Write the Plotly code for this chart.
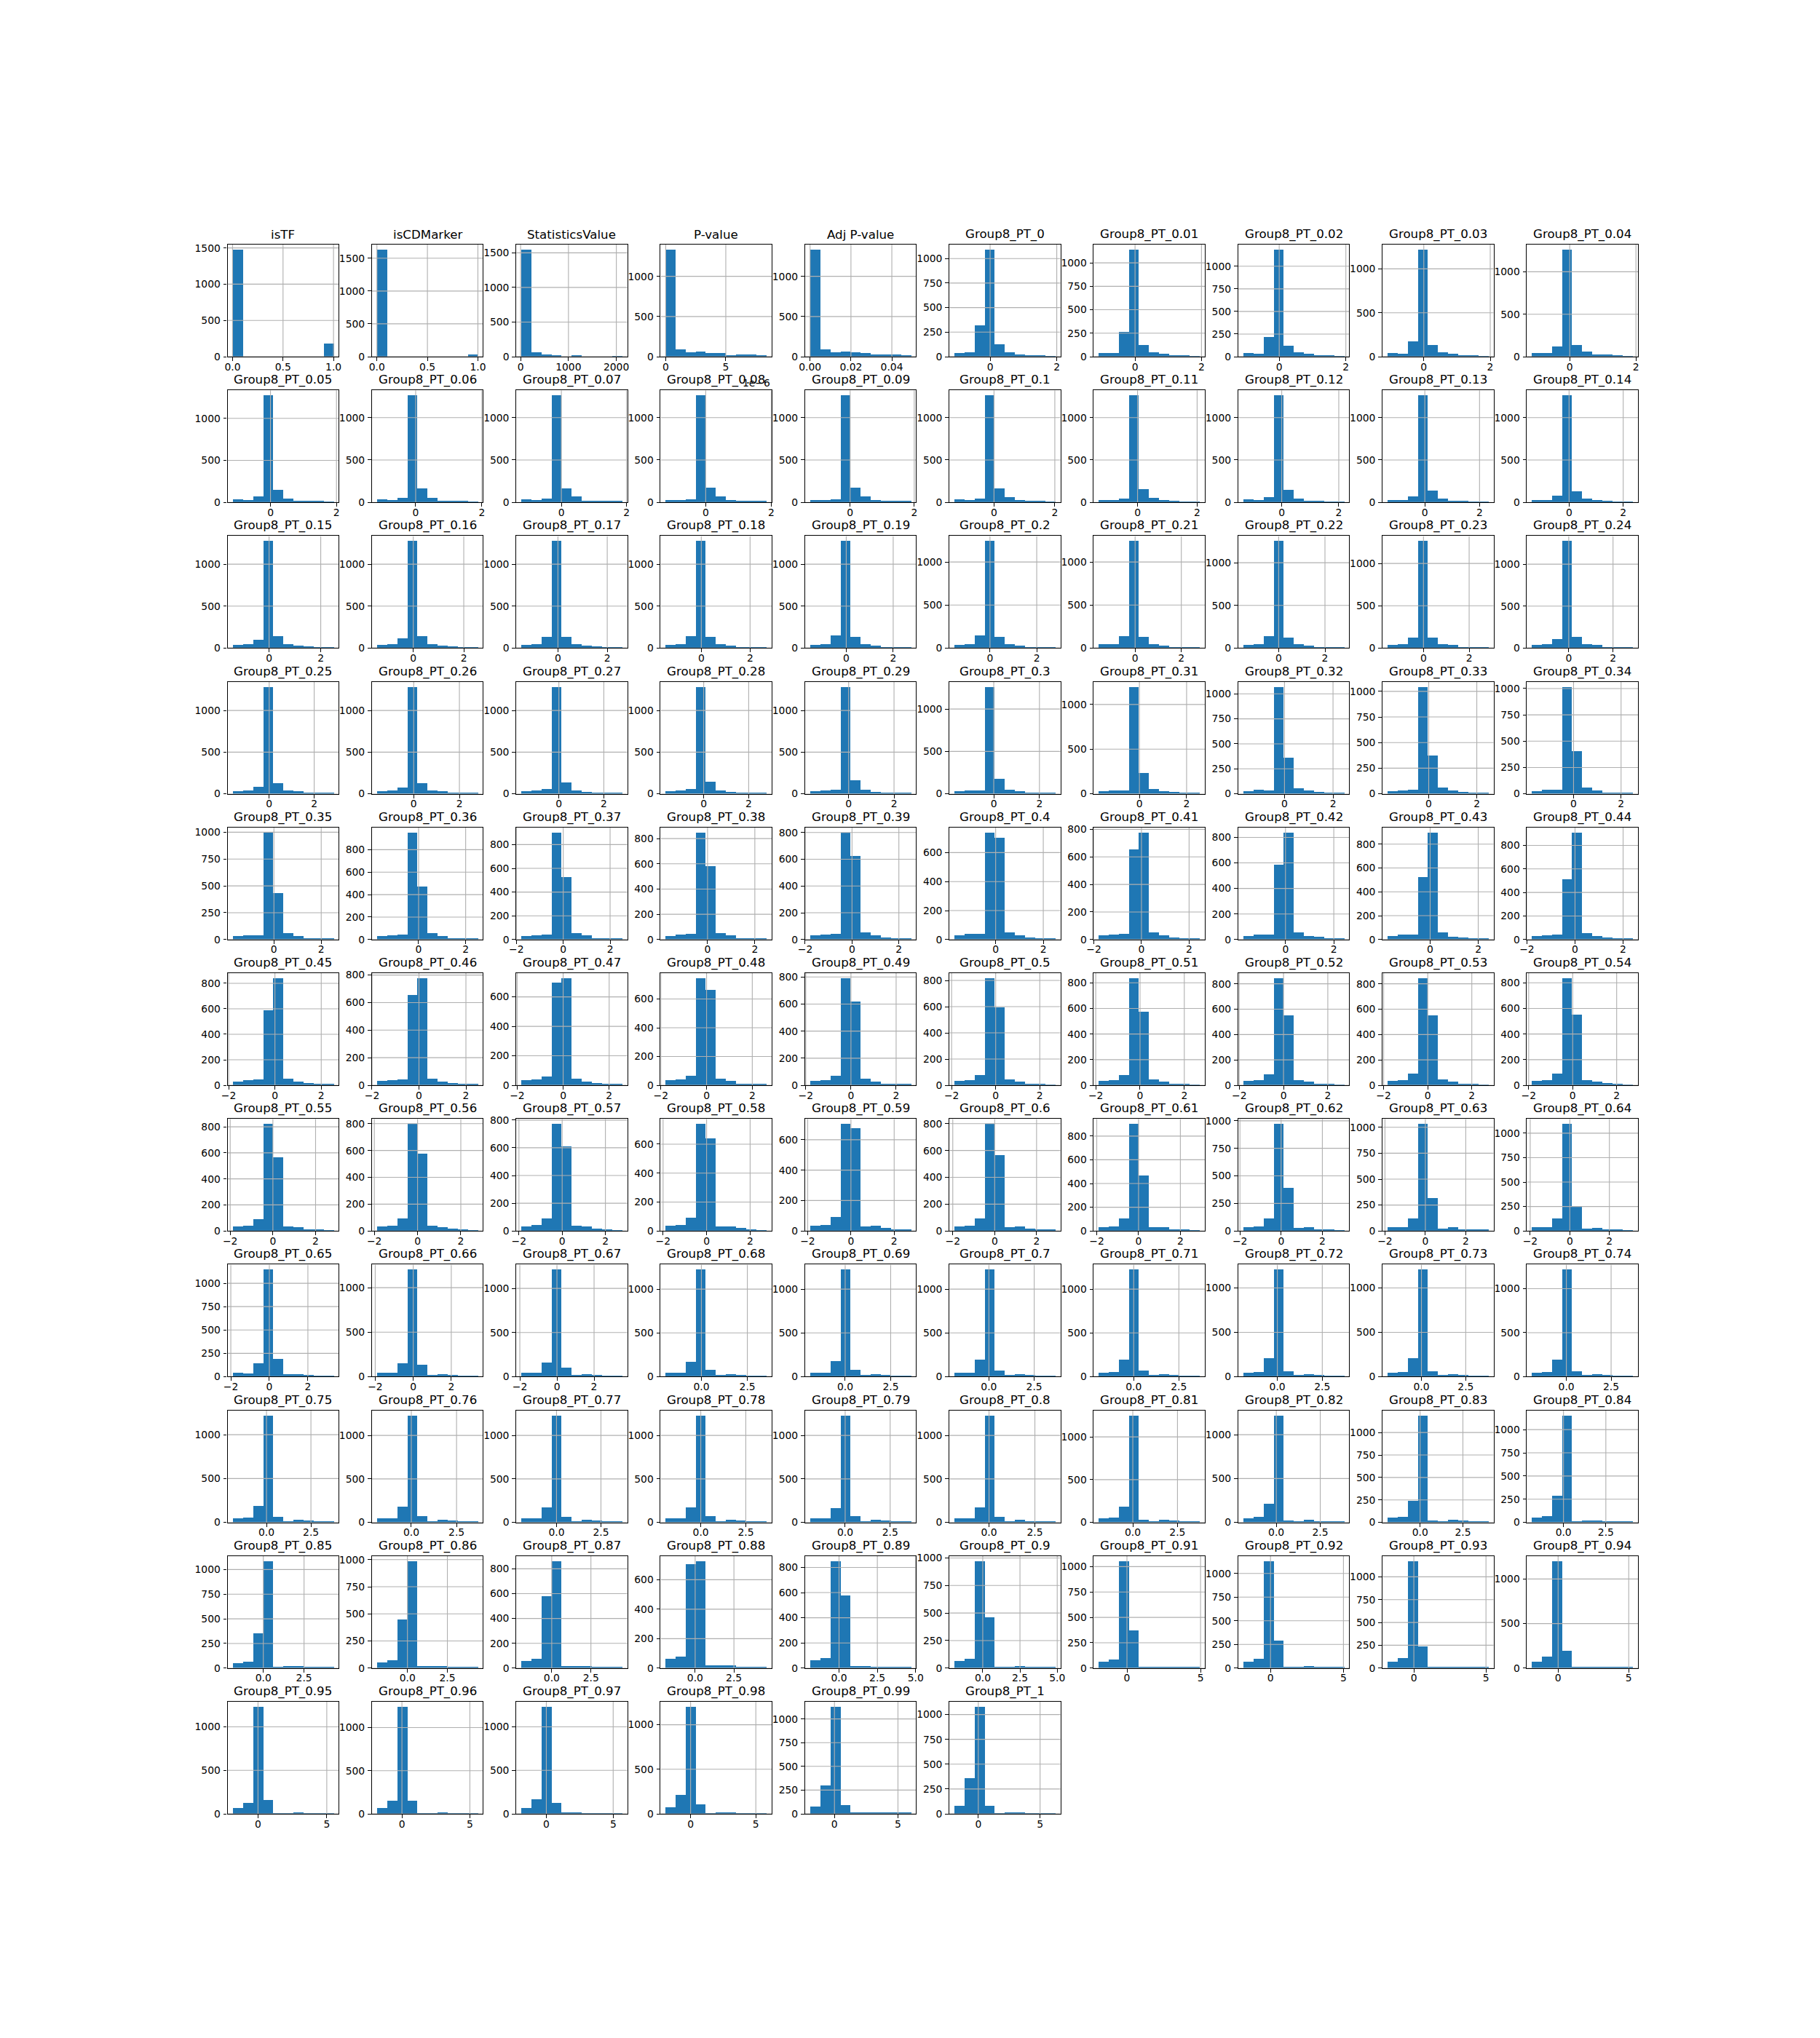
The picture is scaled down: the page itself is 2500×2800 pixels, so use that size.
import numpy as np
import plotly.graph_objects as go

# ---------------- data ----------------
r01_titles = ["isTF", "isCDMarker", "StatisticsValue", "P-value", "Adj P-value",
              "Group8_PT_0", "Group8_PT_0.01", "Group8_PT_0.02", "Group8_PT_0.03", "Group8_PT_0.04"]
r01_lo = [0.0, 0.0, 15.0, 0.0, 0.0, -1.07, -1.09, -1.08, -1.09, -1.14]
r01_hi = [1.0, 1.0, 2124.0, 8.4e-6, 0.0494, 1.96, 1.95, 1.95, 1.95, 1.91]
r01_counts = [
    [1473, 0, 0, 0, 0, 0, 0, 0, 0, 183],
    [1627, 0, 0, 0, 0, 0, 0, 0, 0, 29],
    [1542, 62, 31, 14, 0, 12, 0, 0, 0, 1],
    [1329, 90, 54, 63, 45, 45, 15, 27, 27, 15],
    [1329, 90, 54, 63, 54, 45, 27, 27, 27, 15],
    [37, 47, 316, 1088, 125, 44, 20, 12, 12, 5],
    [38, 38, 262, 1138, 123, 46, 31, 13, 13, 4],
    [40, 32, 215, 1181, 120, 48, 32, 13, 13, 5],
    [41, 33, 173, 1216, 131, 49, 33, 14, 14, 5],
    [42, 42, 119, 1258, 136, 59, 25, 25, 14, 5],
]

r02_titles = ["Group8_PT_0.05", "Group8_PT_0.06", "Group8_PT_0.07", "Group8_PT_0.08", "Group8_PT_0.09",
              "Group8_PT_0.1", "Group8_PT_0.11", "Group8_PT_0.12", "Group8_PT_0.13", "Group8_PT_0.14"]
r02_lo = [-1.15, -1.17, -1.23, -1.22, -1.25, -1.30, -1.30, -1.35, -1.36, -1.37]
r02_hi = [1.91, 1.88, 1.87, 1.86, 1.90, 2.02, 2.09, 2.19, 2.33, 2.36]
r02_counts = [
    [38, 26, 72, 1270, 151, 46, 20, 12, 12, 3],
    [37, 26, 55, 1259, 167, 55, 20, 20, 11, 3],
    [37, 26, 46, 1259, 167, 72, 20, 20, 11, 11],
    [26, 26, 37, 1259, 175, 72, 26, 20, 11, 11],
    [26, 26, 37, 1259, 175, 72, 26, 20, 11, 11],
    [37, 26, 46, 1259, 167, 63, 26, 17, 11, 3],
    [26, 26, 46, 1259, 158, 55, 26, 11, 3, 3],
    [37, 26, 63, 1259, 150, 46, 20, 20, 3, 3],
    [26, 26, 72, 1259, 141, 46, 20, 11, 3, 3],
    [26, 26, 80, 1259, 132, 46, 29, 11, 3, 3],
]

r03_titles = ["Group8_PT_0.15", "Group8_PT_0.16", "Group8_PT_0.17", "Group8_PT_0.18", "Group8_PT_0.19",
              "Group8_PT_0.2", "Group8_PT_0.21", "Group8_PT_0.22", "Group8_PT_0.23", "Group8_PT_0.24"]
r03_lo = [-1.415, -1.44, -1.485, -1.46, -1.54, -1.52, -1.57, -1.53, -1.57, -1.66]
r03_hi = [2.495, 2.56, 2.61, 2.68, 2.76, 2.80, 2.80, 2.83, 2.85, 2.90]
r03_counts = [
    [32, 40, 92, 1272, 136, 40, 23, 14, 6, 6],
    [32, 40, 110, 1272, 136, 40, 23, 14, 6, 6],
    [32, 40, 127, 1272, 127, 40, 23, 14, 6, 6],
    [32, 40, 136, 1272, 127, 40, 23, 6, 6, 6],
    [32, 40, 145, 1272, 127, 40, 23, 6, 6, 6],
    [31, 39, 141, 1240, 124, 39, 23, 6, 6, 6],
    [39, 39, 132, 1240, 124, 39, 23, 6, 6, 6],
    [31, 40, 134, 1250, 116, 40, 23, 6, 6, 6],
    [32, 40, 117, 1261, 117, 40, 32, 6, 6, 6],
    [32, 40, 101, 1272, 127, 40, 32, 6, 6, 6],
]

r04_titles = ["Group8_PT_0.25", "Group8_PT_0.26", "Group8_PT_0.27", "Group8_PT_0.28", "Group8_PT_0.29",
              "Group8_PT_0.3", "Group8_PT_0.31", "Group8_PT_0.32", "Group8_PT_0.33", "Group8_PT_0.34"]
r04_lo = [-1.63, -1.61, -1.67, -1.69, -1.70, -1.72, -1.72, -1.70, -1.71, -1.75]
r04_hi = [2.86, 2.81, 2.82, 2.80, 2.75, 2.70, 2.56, 2.46, 2.49, 2.50]
r04_counts = [
    [38, 46, 90, 1281, 133, 46, 38, 12, 12, 12],
    [38, 46, 81, 1281, 133, 46, 38, 12, 12, 12],
    [38, 46, 64, 1281, 142, 46, 29, 20, 12, 12],
    [38, 46, 64, 1281, 151, 46, 29, 20, 12, 12],
    [38, 46, 55, 1281, 168, 55, 29, 20, 12, 12],
    [37, 46, 46, 1259, 182, 54, 37, 20, 11, 11],
    [35, 43, 43, 1195, 238, 59, 35, 27, 11, 11],
    [31, 43, 39, 1068, 365, 60, 39, 24, 10, 10],
    [31, 38, 42, 1042, 377, 66, 38, 24, 9, 9],
    [30, 41, 41, 1014, 408, 64, 37, 16, 16, 9],
]

r05_titles = ["Group8_PT_0.35", "Group8_PT_0.36", "Group8_PT_0.37", "Group8_PT_0.38", "Group8_PT_0.39",
              "Group8_PT_0.4", "Group8_PT_0.41", "Group8_PT_0.42", "Group8_PT_0.43", "Group8_PT_0.44"]
r05_lo = [-1.75, -1.77, -1.79, -1.77, -1.79, -1.73, -1.79, -1.75, -1.77, -1.79]
r05_hi = [2.52, 2.52, 2.52, 2.50, 2.52, 2.51, 2.45, 2.43, 2.43, 2.41]
r05_counts = [
    [36, 43, 43, 995, 435, 63, 36, 16, 9, 9],
    [34, 41, 47, 951, 473, 60, 34, 15, 9, 9],
    [33, 39, 45, 900, 527, 57, 39, 14, 14, 8],
    [31, 42, 48, 846, 582, 54, 36, 13, 13, 8],
    [35, 40, 45, 798, 624, 56, 35, 18, 13, 7],
    [32, 42, 42, 737, 702, 52, 32, 17, 12, 7],
    [33, 39, 44, 654, 775, 54, 33, 18, 12, 7],
    [30, 42, 42, 586, 836, 59, 30, 25, 8, 8],
    [32, 45, 45, 524, 895, 63, 26, 20, 8, 8],
    [33, 39, 45, 513, 907, 57, 33, 21, 8, 8],
]

r06_titles = ["Group8_PT_0.45", "Group8_PT_0.46", "Group8_PT_0.47", "Group8_PT_0.48", "Group8_PT_0.49",
              "Group8_PT_0.5", "Group8_PT_0.51", "Group8_PT_0.52", "Group8_PT_0.53", "Group8_PT_0.54"]
r06_lo = [-1.83, -1.79, -1.82, -1.79, -1.81, -1.87, -1.86, -1.82, -1.82, -1.85]
r06_hi = [2.53, 2.51, 2.57, 2.63, 2.66, 2.71, 2.70, 2.74, 2.76, 2.74]
r06_counts = [
    [30, 42, 47, 588, 838, 53, 30, 19, 8, 8],
    [33, 39, 44, 653, 775, 49, 28, 18, 7, 7],
    [36, 41, 61, 695, 725, 46, 26, 16, 11, 7],
    [37, 42, 67, 743, 662, 47, 32, 12, 12, 7],
    [34, 39, 71, 789, 618, 50, 29, 13, 13, 7],
    [35, 41, 79, 815, 594, 46, 29, 13, 13, 2],
    [36, 42, 81, 834, 574, 47, 30, 13, 13, 3],
    [36, 42, 88, 842, 550, 42, 30, 8, 13, 4],
    [36, 42, 93, 842, 550, 48, 30, 13, 13, 4],
    [36, 42, 92, 834, 551, 42, 30, 19, 8, 4],
]

r07_titles = ["Group8_PT_0.55", "Group8_PT_0.56", "Group8_PT_0.57", "Group8_PT_0.58", "Group8_PT_0.59",
              "Group8_PT_0.6", "Group8_PT_0.61", "Group8_PT_0.62", "Group8_PT_0.63", "Group8_PT_0.64"]
r07_lo = [-1.89, -1.88, -1.89, -1.88, -1.89, -1.92, -1.90, -1.84, -1.87, -1.91]
r07_hi = [2.84, 2.79, 2.78, 2.76, 2.78, 2.90, 2.93, 3.06, 3.13, 3.19]
r07_counts = [
    [36, 41, 92, 820, 563, 36, 30, 13, 7, 2],
    [35, 40, 95, 796, 577, 40, 29, 18, 7, 2],
    [33, 44, 91, 770, 607, 39, 33, 18, 12, 2],
    [37, 42, 92, 738, 637, 32, 32, 22, 12, 2],
    [35, 40, 93, 702, 674, 30, 35, 21, 11, 6],
    [35, 40, 95, 796, 566, 29, 35, 18, 13, 7],
    [33, 39, 107, 900, 464, 33, 33, 14, 8, 2],
    [35, 42, 115, 969, 393, 29, 35, 15, 9, 2],
    [38, 38, 122, 1030, 319, 23, 38, 16, 9, 9],
    [40, 40, 129, 1092, 256, 25, 32, 17, 10, 2],
]

r08_titles = ["Group8_PT_0.65", "Group8_PT_0.66", "Group8_PT_0.67", "Group8_PT_0.68", "Group8_PT_0.69",
              "Group8_PT_0.7", "Group8_PT_0.71", "Group8_PT_0.72", "Group8_PT_0.73", "Group8_PT_0.74"]
r08_lo = [-1.91, -1.91, -1.92, -1.94, -1.93, -1.90, -1.93, -1.90, -1.91, -1.92]
r08_hi = [3.33, 3.40, 3.52, 3.55, 3.62, 3.67, 3.66, 3.72, 3.79, 3.72]
r08_counts = [
    [42, 34, 143, 1143, 190, 26, 26, 18, 3, 3],
    [44, 44, 150, 1200, 134, 19, 27, 19, 8, 8],
    [44, 44, 160, 1209, 102, 19, 27, 19, 3, 3],
    [44, 44, 169, 1219, 78, 19, 28, 19, 3, 3],
    [44, 44, 178, 1219, 78, 19, 28, 19, 3, 3],
    [44, 44, 194, 1219, 69, 19, 28, 19, 3, 3],
    [44, 53, 194, 1219, 69, 19, 28, 19, 3, 3],
    [44, 52, 208, 1203, 60, 11, 27, 19, 3, 3],
    [44, 52, 208, 1203, 60, 11, 27, 19, 3, 3],
    [44, 52, 193, 1213, 61, 11, 28, 19, 3, 3],
]

r09_titles = ["Group8_PT_0.75", "Group8_PT_0.76", "Group8_PT_0.77", "Group8_PT_0.78", "Group8_PT_0.79",
              "Group8_PT_0.8", "Group8_PT_0.81", "Group8_PT_0.82", "Group8_PT_0.83", "Group8_PT_0.84"]
r09_lo = [-1.91, -1.90, -1.98, -1.95, -1.95, -1.885, -1.90, -1.88, -1.90, -1.86]
r09_hi = [3.77, 3.68, 3.70, 3.66, 3.66, 3.62, 3.75, 3.86, 4.00, 4.10]
r09_counts = [
    [52, 61, 193, 1218, 69, 19, 36, 28, 11, 11],
    [53, 53, 186, 1228, 78, 19, 36, 28, 11, 11],
    [53, 53, 178, 1228, 69, 19, 36, 28, 19, 11],
    [53, 53, 178, 1228, 78, 19, 36, 28, 19, 11],
    [53, 53, 169, 1228, 78, 11, 36, 28, 19, 11],
    [53, 53, 178, 1228, 69, 11, 36, 19, 19, 11],
    [54, 62, 189, 1249, 37, 20, 37, 28, 20, 11],
    [52, 69, 218, 1218, 28, 19, 36, 19, 19, 11],
    [59, 67, 245, 1188, 27, 19, 35, 27, 19, 11],
    [57, 73, 292, 1151, 18, 26, 26, 18, 18, 10],
]

r10_titles = ["Group8_PT_0.85", "Group8_PT_0.86", "Group8_PT_0.87", "Group8_PT_0.88", "Group8_PT_0.89",
              "Group8_PT_0.9", "Group8_PT_0.91", "Group8_PT_0.92", "Group8_PT_0.93", "Group8_PT_0.94"]
r10_lo = [-1.89, -1.91, -1.94, -1.90, -1.89, -1.90, -1.91, -1.87, -1.82, -1.85]
r10_hi = [4.31, 4.41, 4.50, 4.61, 4.70, 4.88, 4.95, 5.05, 5.18, 5.30]
r10_counts = [
    [54, 69, 355, 1083, 17, 25, 25, 17, 17, 10],
    [56, 76, 450, 984, 20, 20, 20, 16, 16, 9],
    [60, 78, 580, 860, 18, 18, 18, 14, 14, 8],
    [66, 80, 705, 725, 21, 21, 21, 11, 11, 7],
    [63, 83, 848, 578, 17, 17, 13, 13, 8, 8],
    [68, 88, 969, 463, 15, 15, 20, 15, 9, 9],
    [67, 88, 1052, 374, 17, 17, 17, 10, 10, 10],
    [71, 102, 1128, 293, 18, 18, 23, 10, 10, 10],
    [74, 114, 1169, 241, 11, 19, 19, 11, 11, 11],
    [76, 133, 1198, 198, 11, 11, 19, 11, 11, 11],
]

r11_titles = ["Group8_PT_0.95", "Group8_PT_0.96", "Group8_PT_0.97", "Group8_PT_0.98", "Group8_PT_0.99",
              "Group8_PT_1"]
r11_lo = [-1.85, -1.84, -1.87, -1.91, -1.92, -1.93]
r11_hi = [5.49, 5.59, 5.68, 5.83, 6.03, 6.24]
r11_counts = [
    [69, 128, 1228, 161, 8, 8, 19, 8, 8, 8],
    [70, 148, 1238, 148, 8, 8, 20, 8, 8, 8],
    [69, 169, 1228, 128, 19, 19, 8, 8, 8, 8],
    [76, 214, 1198, 108, 8, 19, 19, 8, 8, 8],
    [79, 300, 1125, 94, 8, 18, 18, 8, 8, 8],
    [83, 360, 1075, 83, 7, 17, 17, 7, 7, 7],
]

# x-axis offset exponent (matplotlib offset text) per panel title
x_offset_exponent = {"P-value": -6}

rows = [
    (r01_titles, r01_lo, r01_hi, r01_counts),
    (r02_titles, r02_lo, r02_hi, r02_counts),
    (r03_titles, r03_lo, r03_hi, r03_counts),
    (r04_titles, r04_lo, r04_hi, r04_counts),
    (r05_titles, r05_lo, r05_hi, r05_counts),
    (r06_titles, r06_lo, r06_hi, r06_counts),
    (r07_titles, r07_lo, r07_hi, r07_counts),
    (r08_titles, r08_lo, r08_hi, r08_counts),
    (r09_titles, r09_lo, r09_hi, r09_counts),
    (r10_titles, r10_lo, r10_hi, r10_counts),
    (r11_titles, r11_lo, r11_hi, r11_counts),
]

# ---------------- layout / style ----------------
W, H = 2500, 2800
LEFT, RIGHT, TOP, BOTTOM = 0.125, 0.9, 0.88, 0.11
NROWS, NCOLS = 11, 10
WSPACE = HSPACE = 0.3
cell_w = (RIGHT - LEFT) / (NCOLS + (NCOLS - 1) * WSPACE)
cell_h = (TOP - BOTTOM) / (NROWS + (NROWS - 1) * HSPACE)

BAR_COLOR = "#1f77b4"
GRID_COLOR = "#b0b0b0"
PT = 100.0 / 72.0          # px per point at dpi 100
LW = 0.8 * PT
FONT = "DejaVu Sans"
TICK_SIZE = 10 * PT
TITLE_SIZE = 12 * PT


def nice_step(span, nbins):
    raw = span / nbins
    mag = 10 ** np.floor(np.log10(raw))
    for m in (1, 2, 2.5, 5, 10):
        if m * mag >= raw * (1 - 1e-9):
            return m * mag
    return 10 * mag


def decimals_for(step):
    for d in range(0, 8):
        if abs(round(step, d) - step) < 1e-9 * max(step, 1e-12):
            return d
    return 8


def fmt(v, d):
    s = f"{v:.{d}f}"
    if float(s) == 0:
        s = f"{0:.{d}f}"
    return s.replace("-", "\u2212")


fig = go.Figure()
annotations = []
layout_axes = {}

idx = 0
for r, (titles, los, his, counts_list) in enumerate(rows):
    for c, (title, lo, hi, counts) in enumerate(zip(titles, los, his, counts_list)):
        idx += 1
        n = "" if idx == 1 else str(idx)
        x0 = LEFT + c * cell_w * (1 + WSPACE)
        x1 = x0 + cell_w
        y1 = TOP - r * cell_h * (1 + HSPACE)
        y0 = y1 - cell_h

        nb = len(counts)
        bw = (hi - lo) / nb
        centers = [lo + (k + 0.5) * bw for k in range(nb)]
        R = hi - lo
        xr = [lo - 0.05 * R, hi + 0.05 * R]
        ymax = 1.05 * max(counts)
        yr = [0, ymax]

        fig.add_trace(go.Bar(
            x=centers, y=counts, width=[bw] * nb,
            marker=dict(color=BAR_COLOR, line=dict(width=0)),
            xaxis="x" + n, yaxis="y" + n, showlegend=False,
            hovertemplate=title + ": %{x}<br>count %{y}<extra></extra>",
        ))

        # ticks (matplotlib-like MaxNLocator: 3 bins on x, 5 on y)
        exp = x_offset_exponent.get(title, 0)
        scale = 10.0 ** exp
        xs = nice_step((xr[1] - xr[0]) / scale, 3) * scale
        xd = decimals_for(xs / scale)
        k0 = int(np.ceil(xr[0] / xs - 1e-9))
        xt = []
        k = k0
        while k * xs <= xr[1] + 1e-12 * abs(xs):
            xt.append(k * xs)
            k += 1
        xtext = [fmt(v / scale, xd) for v in xt]

        ys = nice_step(ymax, 5)
        yt = []
        k = 0
        while k * ys <= ymax:
            yt.append(k * ys)
            k += 1
        ytext = [fmt(v, decimals_for(ys)) for v in yt]

        # grid lines drawn above the bars (matplotlib default zorder)
        gx, gy = [], []
        for v in xt:
            gx += [v, v, None]
            gy += [0, ymax, None]
        for v in yt:
            gx += [xr[0], xr[1], None]
            gy += [v, v, None]
        fig.add_trace(go.Scatter(
            x=gx, y=gy, mode="lines", line=dict(color=GRID_COLOR, width=LW),
            xaxis="x" + n, yaxis="y" + n, showlegend=False, hoverinfo="skip",
        ))

        common = dict(
            showline=True, linecolor="black", linewidth=LW, mirror=True,
            showgrid=False, zeroline=False, ticks="outside", ticklen=3.5 * PT,
            tickwidth=LW, tickcolor="black", tickmode="array", automargin=False,
            tickfont=dict(family=FONT, size=TICK_SIZE, color="black"),
            fixedrange=True,
        )
        layout_axes["xaxis" + n] = dict(
            domain=[x0, x1], anchor="y" + n, range=xr,
            tickvals=xt, ticktext=xtext, ticklabelstandoff=-4, **common)
        layout_axes["yaxis" + n] = dict(
            domain=[y0, y1], anchor="x" + n, range=yr,
            tickvals=yt, ticktext=ytext, ticklabelstandoff=1, **common)

        annotations.append(dict(
            text=title, x=(x0 + x1) / 2, y=y1, xref="paper", yref="paper",
            xanchor="center", yanchor="bottom", yshift=2, showarrow=False,
            font=dict(family=FONT, size=TITLE_SIZE, color="black"),
        ))
        if exp != 0:
            annotations.append(dict(
                text="1e\u2212%d" % (-exp), x=x1, y=y0, xref="paper", yref="paper",
                xanchor="right", yanchor="top", yshift=-26, showarrow=False,
                font=dict(family=FONT, size=TICK_SIZE, color="black"),
            ))

fig.update_layout(
    template="none",
    width=W, height=H, margin=dict(l=0, r=0, t=0, b=0, pad=0),
    paper_bgcolor="white", plot_bgcolor="white",
    bargap=0, barmode="overlay", showlegend=False,
    font=dict(family=FONT, size=TICK_SIZE, color="black"),
    annotations=annotations,
    **layout_axes,
)

fig.write_html("out.html")
